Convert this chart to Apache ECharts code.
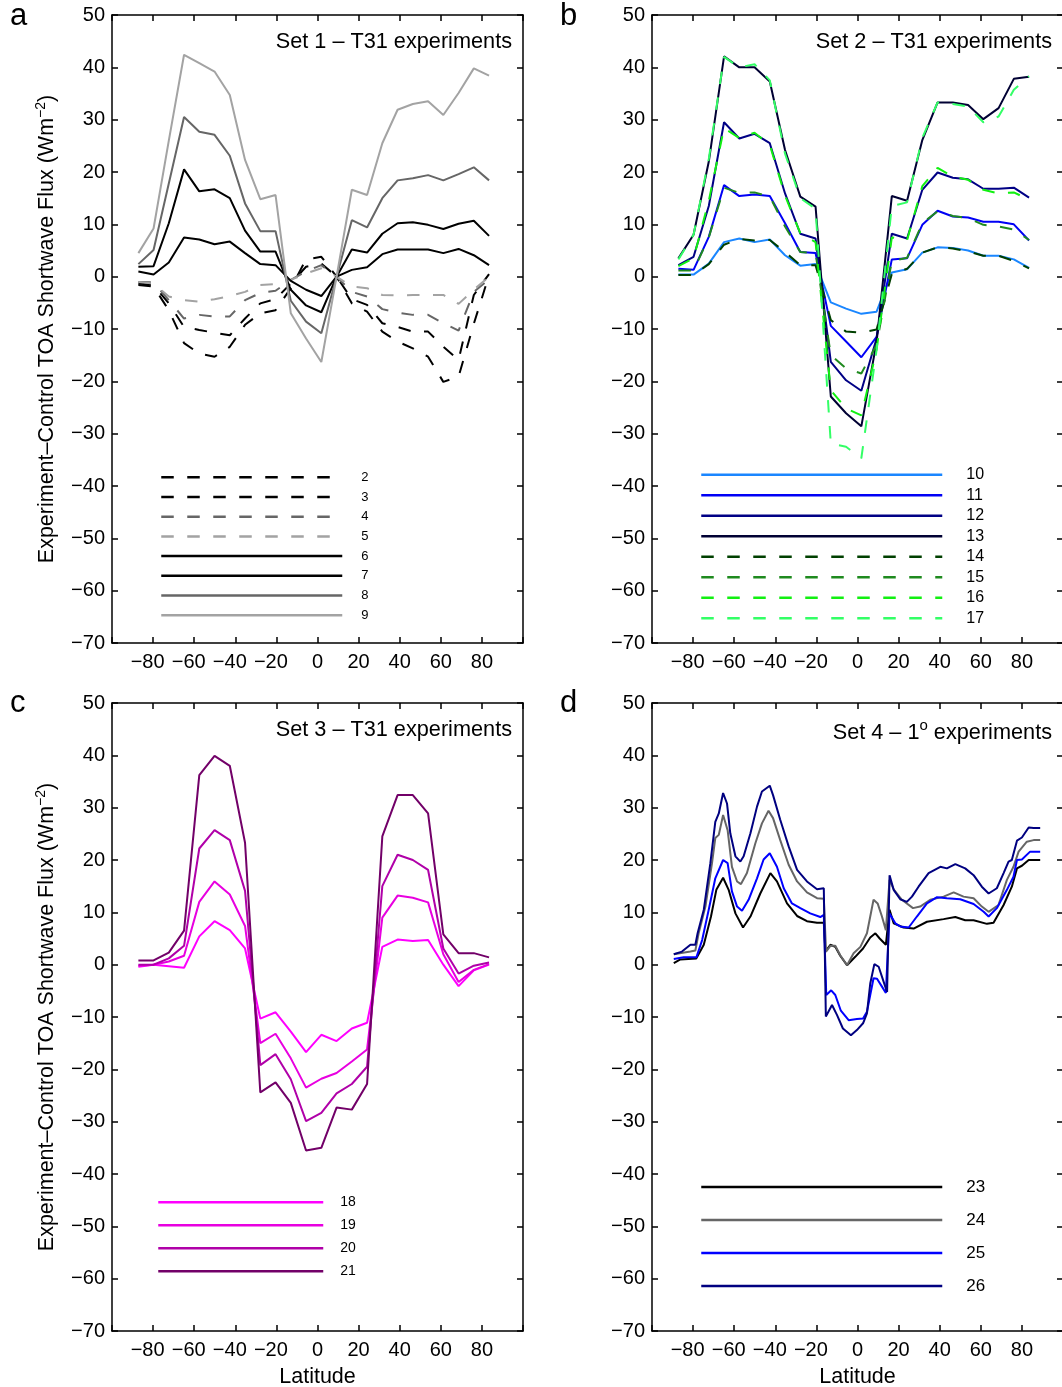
<!DOCTYPE html>
<html><head><meta charset="utf-8">
<script src="https://cdn.jsdelivr.net/npm/echarts@6/dist/echarts.min.js"></script>
<style>html,body{margin:0;padding:0;background:#fff}#c{width:1062px;height:1387px}</style>
</head><body><div id="c"></div>
<script>
// ---------- DATA ----------
const latT31 = [-87.16,-79.78,-72.36,-64.94,-57.52,-50.10,-42.68,-35.26,-27.83,-20.41,-12.99,-5.57,1.86,9.28,16.70,24.12,31.54,38.97,46.39,53.81,61.23,68.65,76.07,83.48];
const xTicks = [-80,-60,-40,-20,0,20,40,60,80];
const yTicks = [-70,-60,-50,-40,-30,-20,-10,0,10,20,30,40,50];

// Set 1
const s2 = [-1.6,-1.9,-6.4,-12.7,-14.7,-15.3,-13.4,-9.2,-7.0,-6.4,-2.2,3.3,3.8,0,-5.1,-6.7,-10.5,-12.4,-13.7,-15.3,-20.1,-19.1,-9.0,0.3];
const s3 = [-1.3,-1.6,-5.1,-9.6,-10.2,-10.7,-11.2,-8.0,-5.1,-4.3,-1.3,1.9,2.5,0,-4.3,-5.4,-8.9,-9.6,-10.5,-10.5,-13.4,-15.9,-3.5,0.5];
const s4 = [-1.0,-1.1,-4.5,-8.0,-7.3,-7.6,-7.6,-4.5,-3.1,-2.7,-0.6,1.0,2.2,0,-2.9,-3.8,-6.2,-6.9,-7.3,-7.3,-8.9,-10.3,-2.9,-0.5];
const s5 = [-1.0,-1.3,-3.8,-4.5,-4.8,-4.3,-3.7,-2.9,-1.6,-1.4,-0.6,0.6,1.6,0,-1.9,-2.2,-3.5,-3.6,-3.5,-3.5,-3.5,-5.2,-2.5,0];
const s6 = [1.0,0.4,2.7,7.5,7.1,6.2,6.7,4.5,2.4,2.2,-0.8,-2.5,-3.7,0,1.3,1.8,4.3,5.2,5.2,5.2,4.5,5.3,4.1,2.2];
const s7 = [1.9,2.0,10.2,20.5,16.3,16.7,15.0,8.8,4.8,4.8,-2.5,-5.5,-6.8,0,5.2,4.6,8.2,10.2,10.4,9.9,9.1,10.1,10.7,7.8];
const s8 = [2.4,5.1,17.8,30.5,27.7,27.1,23.1,14.0,8.7,8.7,-4.6,-8.6,-10.8,0,10.8,9.4,15.0,18.4,18.8,19.4,18.4,19.6,20.9,18.4];
const s9 = [4.5,9.2,26.0,42.4,40.8,39.2,34.7,22.3,14.8,15.6,-7.0,-11.8,-16.3,0,16.6,15.6,25.5,31.9,33.0,33.5,30.9,35.1,39.8,38.4];

// Set 2
const s10 = [0.4,0.4,2.5,6.6,7.3,6.6,7.1,4.1,2.1,2.4,-4.9,-6.1,-7.1,-6.7,0.8,1.4,4.6,5.6,5.5,5.0,4.0,4.0,3.3,1.7];
const s11 = [1.5,1.3,7.6,17.5,15.4,15.7,15.4,10.2,4.7,4.5,-9.4,-12.4,-15.4,-11.5,3.3,3.5,9.9,12.6,11.5,11.3,10.5,10.5,10.0,6.9];
const s12 = [2.2,3.8,13.5,29.5,26.4,27.3,25.5,15.9,8.2,7.3,-16.3,-19.8,-21.8,-11.8,8.2,7.3,16.6,19.9,18.9,18.6,16.8,16.8,17.0,15.1];
const s13 = [3.5,8.0,22.0,42.1,40.0,40.0,37.3,24.2,15.3,13.4,-22.9,-26.1,-28.6,-12.5,15.4,14.5,26.1,33.3,33.3,32.8,30.1,32.2,37.8,38.2];
const s14 = [0.3,0.3,2.4,6.1,7.2,6.9,7.0,4.7,2.2,2.2,-8.3,-10.5,-10.7,-10.1,0.5,1.5,4.6,5.6,5.4,4.8,4.0,4.0,3.0,1.6];
const s15 = [1.2,1.2,7.5,17.0,16.0,16.1,15.3,9.6,4.7,4.5,-15.0,-17.5,-18.5,-13.0,3.0,3.6,10.2,12.5,11.6,11.2,9.9,9.6,9.0,7.0];
const s16 = [2.0,3.5,14.5,28.4,26.5,27.5,25.2,15.5,8.3,6.6,-21.7,-25.2,-26.5,-14.0,7.5,7.0,17.3,20.8,19.1,18.5,16.6,15.9,16.1,14.7];
const s17 = [3.3,8.0,22.5,42.0,40.0,40.6,37.5,23.5,15.0,13.0,-31.9,-32.5,-34.7,-14.0,13.5,14.2,26.5,33.3,33.0,32.5,29.5,30.6,35.7,38.3];

// Set 3
const s18 = [-0.4,0,-0.3,-0.6,5.4,8.3,6.6,3.1,-10.3,-9.1,-12.8,-16.7,-13.4,-14.6,-12.2,-11.1,3.4,4.8,4.5,4.7,0,-4.1,-1.1,0];
const s19 = [-0.2,0,0.6,1.7,12.0,15.9,13.4,7.4,-15.0,-13.2,-17.9,-23.5,-21.8,-20.7,-18.5,-16.2,9.0,13.2,12.8,11.9,2.0,-3.3,-1.0,0.1];
const s20 = [0,0,1.2,3.6,22.2,25.7,23.8,14.1,-19.2,-17.1,-21.9,-29.9,-28.3,-24.6,-22.8,-19.5,15.0,21.0,20.0,18.1,3.1,-1.7,-0.2,0.4];
const s21 = [0.8,0.8,2.3,6.5,36.2,39.9,38.0,23.3,-24.4,-22.5,-26.4,-35.5,-35.0,-27.3,-27.7,-22.8,24.5,32.4,32.4,28.9,5.8,2.2,2.2,1.4];

// Set 4 (1 degree runs) : [latitude, flux]
const s23 = [[-89.4,0.3],[-86.2,1.0],[-78.4,1.2],[-74.8,3.8],[-71.3,9.2],[-68.7,14.3],[-65.4,16.6],[-62.7,14.3],[-59.4,9.8],[-55.7,7.1],[-52.1,9.2],[-47.3,13.6],[-42.4,17.5],[-39.2,15.9],[-34.3,11.7],[-29.4,9.3],[-24.6,8.3],[-19.7,8.0],[-16.4,8.0],[-15.6,2.5],[-13.2,3.8],[-10.8,3.4],[-8.4,1.7],[-5.1,-0.1],[-1.1,1.5],[2.7,3.1],[6.2,5.2],[8.7,6.0],[10.8,5.0],[13.8,3.8],[14.4,3.8],[15.6,10.5],[17.6,7.9],[22.4,7.1],[27.3,6.9],[33.8,8.2],[41.9,8.7],[47.6,9.1],[52.4,8.5],[56.5,8.5],[63.0,7.8],[66.2,8.0],[71.1,11.4],[75.1,14.9],[77.6,18.4],[80.0,18.9],[83.3,20.0],[88.9,20.0]];
const s24 = [[-89.4,2.0],[-81.3,2.5],[-78.9,2.7],[-77.3,6.0],[-74.0,11.1],[-70.8,19.4],[-69.2,24.2],[-67.5,24.8],[-65.4,28.6],[-63.2,25.7],[-61.1,18.7],[-58.6,15.9],[-56.7,15.4],[-53.8,17.5],[-49.7,23.2],[-46.5,27.0],[-43.3,29.4],[-41.1,28.0],[-37.6,23.8],[-33.5,19.1],[-29.4,15.9],[-24.6,13.8],[-19.7,12.7],[-16.4,12.6],[-15.3,2.5],[-13.2,3.6],[-10.8,3.6],[-8.4,1.8],[-5.1,-0.1],[-1.9,2.2],[1.4,3.4],[4.6,6.0],[7.8,12.4],[9.8,11.7],[11.9,9.2],[13.8,6.6],[14.4,6.6],[15.6,16.2],[17.6,14.4],[21.6,12.4],[27.0,10.8],[30.5,11.1],[35.4,12.4],[41.9,13.0],[46.8,13.8],[51.6,13.0],[56.5,12.7],[60.5,11.1],[63.8,10.1],[68.6,11.4],[72.7,16.2],[75.9,18.7],[78.4,21.6],[82.4,23.5],[85.7,23.8],[88.9,23.8]];
const s25 = [[-89.4,1.1],[-84.6,1.4],[-78.4,1.4],[-75.6,4.7],[-72.4,10.5],[-69.2,16.5],[-65.4,20.0],[-63.2,19.4],[-61.1,14.0],[-58.6,11.1],[-56.2,10.3],[-53.0,12.4],[-48.9,16.5],[-45.7,20.1],[-42.7,21.3],[-39.2,18.7],[-35.9,14.6],[-31.9,11.7],[-27.8,10.8],[-23.0,9.8],[-18.1,9.1],[-16.4,9.5],[-15.2,-5.8],[-12.8,-4.9],[-10.8,-5.8],[-8.1,-8.8],[-4.3,-10.6],[-0.3,-10.4],[2.7,-10.3],[4.6,-9.0],[7.8,-2.6],[9.5,-2.7],[11.9,-4.2],[13.8,-5.4],[14.4,-5.6],[15.6,9.8],[18.4,7.9],[20.8,7.3],[24.9,7.1],[28.9,9.2],[33.8,11.7],[38.7,12.9],[43.5,12.7],[50.0,12.5],[56.5,11.6],[61.4,10.1],[63.8,9.2],[67.8,10.8],[72.7,14.3],[75.9,16.8],[77.6,20.0],[80.0,20.1],[84.0,21.6],[88.9,21.6]];
const s26 = [[-89.4,2.0],[-85.4,2.5],[-81.3,3.8],[-78.9,3.8],[-77.8,6.0],[-74.8,10.5],[-71.6,19.4],[-69.2,27.3],[-67.5,28.9],[-65.4,32.8],[-63.5,30.8],[-61.9,25.1],[-59.4,20.7],[-57.0,19.7],[-55.4,20.7],[-52.1,25.1],[-48.9,30.2],[-46.5,33.1],[-42.7,34.2],[-41.1,32.4],[-37.6,27.7],[-33.5,22.6],[-29.4,18.1],[-24.6,15.9],[-19.7,14.4],[-16.4,14.6],[-15.4,-9.9],[-12.4,-7.7],[-10.0,-9.6],[-7.1,-12.2],[-3.2,-13.5],[-0.3,-12.5],[2.7,-11.2],[4.6,-9.3],[6.2,-3.6],[8.2,0.1],[10.3,-0.4],[13.5,-4.2],[14.4,-5.2],[15.6,17.1],[17.6,14.3],[20.8,12.5],[24.0,12.0],[26.5,13.0],[29.7,14.9],[34.6,17.5],[40.3,18.7],[43.5,18.4],[47.6,19.2],[52.4,18.4],[56.5,17.1],[60.5,14.9],[63.8,13.6],[67.8,14.6],[71.1,17.5],[73.5,19.7],[75.1,20.0],[77.6,23.7],[80.0,24.3],[83.3,26.2],[85.7,26.1],[88.9,26.1]];

const panelTitles = ['Set 1 \u2013 T31 experiments','Set 2 \u2013 T31 experiments','Set 3 \u2013 T31 experiments','Set 4 \u2013 1{sup|o} experiments'];
const panelLetters = ['a','b','c','d'];
const yName = 'Experiment\u2013Control TOA Shortwave Flux (Wm{sup|\u22122})';
const xName = 'Latitude';

// ---------- STYLE ----------
const FONT = '"Liberation Sans", Arial, Helvetica, sans-serif';
const DASH = [12.5, 13.5];
const seriesDefs = [
  ['2',0,s2,'#000000',true],['3',0,s3,'#000000',true],['4',0,s4,'#666666',true],['5',0,s5,'#a3a3a3',true],
  ['6',0,s6,'#000000',false],['7',0,s7,'#000000',false],['8',0,s8,'#666666',false],['9',0,s9,'#a3a3a3',false],
  ['10',1,s10,'#1a86ff',false],['11',1,s11,'#0000f5',false],['12',1,s12,'#000085',false],['13',1,s13,'#000033',false],
  ['14',1,s14,'#004000',true],['15',1,s15,'#1f8a1f',true],['16',1,s16,'#11f011',true],['17',1,s17,'#33ff66',true],
  ['18',2,s18,'#ff00ff',false],['19',2,s19,'#e800e0',false],['20',2,s20,'#b000a8',false],['21',2,s21,'#720068',false],
  ['23',3,s23,'#000000',false],['24',3,s24,'#666666',false],['25',3,s25,'#0000ff',false],['26',3,s26,'#000080',false]
];

const grids = [
  {left:112, top:15, width:411, height:628},
  {left:652, top:15, width:411, height:628},
  {left:112, top:703, width:411, height:628},
  {left:652, top:703, width:411, height:628}
].map(g => Object.assign({containLabel:false, outerBoundsMode:'none'}, g));

const TICKFS = 20;
const fmtX = v => {
  if (Math.abs(v) === 100) return '';
  return v < 0 ? '{neg|\u2212' + Math.abs(v) + '}' : String(v);
};
const fmtY = v => (v < 0 ? '\u2212' + Math.abs(v) : String(v));
const lineSt = {color:'#000', width:1.5};
const tickSt = {show:true, inside:true, length:6, lineStyle:{color:'#000', width:1.5}};

const xAxis = [], yAxis = [];
for (let i = 0; i < 4; i++) {
  xAxis.push({
    gridIndex:i, type:'value', min:-100, max:100, interval:20, position:'bottom',
    axisLine:{show:true, onZero:false, lineStyle:lineSt}, axisTick:tickSt,
    axisLabel:{show:true, margin:9, color:'#000', fontSize:TICKFS, fontFamily:FONT, formatter:fmtX,
      rich:{neg:{fontSize:TICKFS, fontFamily:FONT, color:'#000', padding:[0,11,0,0]}}},
    splitLine:{show:false},
    name: i >= 2 ? xName : '', nameLocation:'middle', nameGap:35,
    nameTextStyle:{fontSize:21.5, fontFamily:FONT, color:'#000'}
  });
  xAxis.push({
    gridIndex:i, type:'value', min:-100, max:100, interval:20, position:'top',
    axisLine:{show:true, onZero:false, lineStyle:lineSt}, axisTick:tickSt,
    axisLabel:{show:false}, splitLine:{show:false}
  });
  yAxis.push({
    gridIndex:i, type:'value', min:-70, max:50, interval:10, position:'left',
    axisLine:{show:true, onZero:false, lineStyle:lineSt}, axisTick:tickSt,
    axisLabel:{show:true, margin:7, color:'#000', fontSize:TICKFS, fontFamily:FONT, formatter:fmtY},
    splitLine:{show:false},
    name: (i % 2 === 0) ? yName : '', nameLocation:'middle', nameGap:52, nameRotate:90,
    nameTextStyle:{fontSize:21.5, fontFamily:FONT, color:'#000', lineHeight:26,
      rich:{sup:{fontSize:14, fontFamily:FONT, color:'#000', verticalAlign:'top', lineHeight:12}}}
  });
  yAxis.push({
    gridIndex:i, type:'value', min:-70, max:50, interval:10, position:'right',
    axisLine:{show:true, onZero:false, lineStyle:lineSt}, axisTick:tickSt,
    axisLabel:{show:false}, splitLine:{show:false}
  });
}

const series = seriesDefs.map(([name, p, d, color, dashed]) => ({
  name, type:'line', xAxisIndex:2*p, yAxisIndex:2*p,
  data: (p === 3) ? d : d.map((v, k) => [latT31[k], v]),
  symbol:'none', showSymbol:false, smooth:false, clip:true,
  lineStyle:{color, width:2, type: dashed ? DASH : 'solid'},
  itemStyle:{color}, emphasis:{disabled:true}, animation:false
}));

const legendCfg = [
  {names:['2','3','4','5','6','7','8','9'], left:160, top:470.3, w:181, gap:5.7, fs:13, pad:14},
  {names:['10','11','12','13','14','15','16','17'], left:700, top:466.8, w:241, gap:4.5, fs:16, pad:19},
  {names:['18','19','20','21'], left:157, top:1195.3, w:165, gap:9, fs:14, pad:12},
  {names:['23','24','25','26'], left:700, top:1178.5, w:241, gap:16, fs:17, pad:19}
];
const legend = legendCfg.map(c => ({
  data:c.names, orient:'vertical', left:c.left, top:c.top, padding:0,
  itemWidth:c.w, itemHeight:14, itemGap:c.gap, selectedMode:false,
  lineStyle:{width:2.5},
  itemStyle:{opacity:0, borderWidth:0},
  textStyle:{fontSize:c.fs, fontFamily:FONT, color:'#000', lineHeight:14, padding:[0,0,0,c.pad]}
}));

const titles = [];
const letterPos = [[10,1],[560,1],[10,688],[560,688]];
panelLetters.forEach((t, i) => titles.push({
  text:t, left:letterPos[i][0], top:letterPos[i][1], padding:0,
  textStyle:{fontSize:31, fontWeight:'normal', fontFamily:FONT, color:'#000', lineHeight:31}
}));
const titlePos = [[550,31.5],[10,31.5],[550,719.5],[10,722]];
panelTitles.forEach((t, i) => {
  titles.push({
    text:t, right:titlePos[i][0], top:titlePos[i][1], padding:0,
    textStyle:{fontSize:21.7, fontWeight:'normal', fontFamily:FONT, color:'#000', lineHeight:22,
      rich:{sup:{fontSize:15, fontFamily:FONT, color:'#000', padding:[0,0,14,0]}}}
  });
});

const chart = echarts.init(document.getElementById('c'), null, {renderer:'canvas'});
chart.setOption({
  animation:false, backgroundColor:'#fff',
  title:titles, grid:grids, xAxis, yAxis, legend, series, tooltip:{show:false}
});
</script></body></html>
